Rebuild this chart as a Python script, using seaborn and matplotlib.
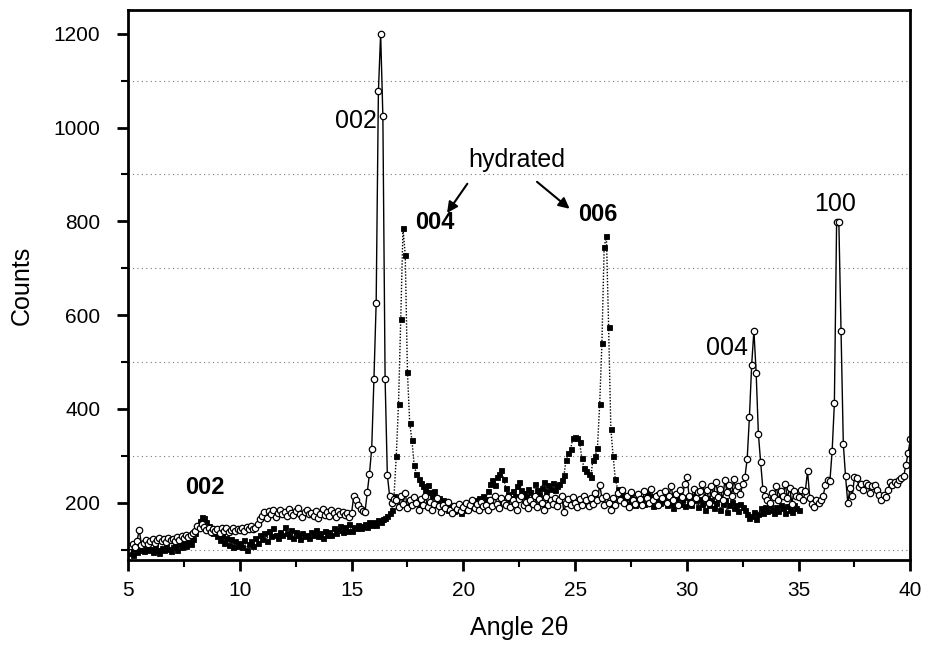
import numpy as np
import matplotlib.pyplot as plt
import seaborn as sns
from matplotlib.ticker import MultipleLocator

# ==========================================
# XRD pattern: dry sample (open circles) vs hydrated (filled squares)
# ==========================================
sns.set_style('ticks')
plt.rcParams['font.family'] = ['Liberation Sans', 'DejaVu Sans']
plt.rcParams.update({'text.color': 'black', 'axes.labelcolor': 'black',
                     'xtick.color': 'black', 'ytick.color': 'black'})

# 2-theta grid of the scans (0.1 deg step)
angle_dry = np.round(np.arange(5.0, 40.05, 0.1), 1)
angle_hyd = np.round(np.arange(5.0, 35.05, 0.1), 1)

# counts, one row per degree
counts_dry = [
    100, 108, 112, 105, 118, 142, 110, 115, 120, 112,   # 5
    118, 122, 115, 120, 125, 118, 122, 116, 124, 120,   # 6
    122, 118, 126, 120, 128, 124, 130, 126, 132, 135,   # 7
    140, 150, 145, 155, 148, 142, 146, 138, 144, 140,   # 8
    143, 136, 145, 140, 146, 138, 142, 145, 140, 144,   # 9
    142, 146, 140, 148, 144, 150, 143, 147, 155, 165,   # 10
    172, 180, 168, 182, 176, 185, 170, 178, 184, 175,   # 11
    180, 172, 186, 178, 174, 182, 188, 176, 170, 180,   # 12
    184, 175, 178, 172, 182, 168, 176, 186, 174, 180,   # 13
    172, 185, 178, 170, 182, 176, 180, 174, 178, 170,   # 14
    178, 215, 205, 195, 187, 182, 180, 222, 262, 315,   # 15
    463, 626, 1077, 1200, 1024, 463, 259, 215, 200, 208,  # 16
    205, 190, 215, 198, 220, 188, 205, 195, 212, 200,   # 17
    185, 208, 196, 215, 190, 202, 185, 198, 210, 192,   # 18
    180, 195, 188, 202, 185, 178, 192, 186, 198, 182,   # 19
    190, 200, 185, 196, 205, 188, 198, 184, 202, 192,   # 20
    196, 185, 205, 192, 215, 198, 188, 210, 200, 195,   # 21
    212, 190, 205, 198, 185, 208, 215, 195, 202, 188,   # 22
    205, 198, 215, 190, 208, 200, 185, 212, 196, 205,   # 23
    198, 210, 192, 205, 215, 180, 200, 208, 195, 212,   # 24
    200, 190, 208, 196, 215, 205, 192, 210, 198, 220,   # 25
    205, 238, 210, 195, 215, 200, 185, 210, 195, 220,   # 26
    205, 228, 200, 215, 190, 222, 205, 198, 218, 208,   # 27
    195, 225, 210, 200, 230, 205, 215, 195, 220, 210,   # 28
    225, 200, 215, 235, 205, 218, 195, 228, 212, 240,   # 29
    255, 215, 200, 230, 210, 222, 225, 240, 210, 228,   # 30
    200, 235, 218, 245, 212, 230, 205, 248, 222, 238,   # 31
    215, 250, 226, 235, 218, 240, 255, 294, 383, 494,   # 32
    567, 477, 347, 287, 230, 215, 205, 200, 220, 212,   # 33
    235, 205, 225, 215, 240, 210, 232, 198, 225, 215,   # 34
    212, 228, 205, 225, 267, 210, 198, 190, 205, 200,   # 35
    205, 215, 238, 249, 246, 310, 412, 799, 799, 566,   # 36
    325, 256, 199, 231, 214, 255, 253, 234, 240, 228,   # 37
    242, 238, 221, 235, 238, 226, 217, 206, 217, 212,   # 38
    228, 245, 238, 245, 240, 249, 252, 256, 280, 306,   # 39
    335,                                                # 40
]

counts_hyd = [
    92, 98, 88, 102, 95, 108, 100, 96, 104, 99,         # 5
    102, 95, 106, 100, 92, 104, 98, 108, 101, 96,       # 6
    105, 110, 100, 112, 106, 115, 108, 118, 112, 122,   # 7
    135, 148, 160, 170, 168, 158, 150, 142, 135, 140,   # 8
    128, 120, 132, 115, 125, 110, 122, 105, 118, 108,   # 9
    115, 105, 120, 100, 112, 118, 108, 125, 115, 130,   # 10
    122, 135, 118, 140, 128, 145, 132, 125, 138, 130,   # 11
    148, 135, 128, 142, 125, 138, 130, 122, 135, 128,   # 12
    132, 125, 138, 130, 142, 128, 135, 125, 140, 132,   # 13
    138, 130, 145, 135, 142, 150, 138, 148, 140, 155,   # 14
    140, 148, 145, 152, 146, 150, 155, 148, 158, 152,   # 15
    158, 152, 162, 158, 165, 168, 172, 178, 185, 215,   # 16
    300, 411, 592, 785, 729, 478, 370, 333, 280, 262,   # 17
    250, 242, 235, 228, 238, 222, 215, 225, 205, 210,   # 18
    198, 205, 192, 185, 195, 188, 182, 190, 185, 178,   # 19
    192, 185, 195, 200, 190, 205, 198, 210, 202, 215,   # 20
    208, 225, 240, 248, 238, 255, 262, 270, 250, 232,   # 21
    218, 210, 225, 215, 235, 245, 228, 220, 212, 230,   # 22
    222, 215, 240, 228, 218, 232, 245, 225, 238, 230,   # 23
    242, 228, 235, 240, 248, 258, 292, 305, 314, 338,   # 24
    340, 338, 330, 295, 274, 268, 262, 255, 292, 300,   # 25
    316, 410, 540, 745, 768, 575, 357, 300, 250, 230,   # 26
    218, 225, 205, 212, 198, 220, 208, 195, 215, 202,   # 27
    210, 198, 222, 205, 215, 192, 208, 218, 200, 212,   # 28
    205, 195, 215, 200, 188, 210, 220, 198, 205, 192,   # 29
    212, 200, 195, 215, 205, 190, 208, 198, 185, 210,   # 30
    195, 205, 188, 200, 212, 185, 198, 205, 180, 195,   # 31
    202, 188, 195, 182, 198, 190, 185, 175, 168, 172,   # 32
    180, 165, 175, 188, 178, 190, 182, 195, 185, 178,   # 33
    190, 182, 195, 188, 178, 192, 185, 180, 195, 188,   # 34
    185,                                                # 35
]

fig = plt.figure(figsize=(9.28, 6.45), dpi=100)
ax = fig.add_axes([0.138, 0.132, 0.843, 0.852])

# hydrated first, so the open circles sit on top
sns.lineplot(x=angle_hyd, y=counts_hyd, ax=ax, color='black', lw=1.0,
             linestyle=(0, (1, 1.2)), marker='s', markersize=3.6,
             markerfacecolor='black', markeredgecolor='black', markeredgewidth=0.6)
sns.lineplot(x=angle_dry, y=counts_dry, ax=ax, color='black', lw=1.0,
             marker='o', markersize=4.6, markerfacecolor='white',
             markeredgecolor='black', markeredgewidth=0.9)

ax.set_xlim(5, 40)
ax.set_ylim(78, 1250)
ax.xaxis.set_major_locator(MultipleLocator(5))
ax.xaxis.set_minor_locator(MultipleLocator(2.5))
ax.yaxis.set_major_locator(MultipleLocator(200))
ax.yaxis.set_minor_locator(MultipleLocator(100))

# dotted grid on the minor (odd hundreds) levels only
ax.grid(False)
ax.grid(which='minor', axis='y', color='#777777', linestyle=(0, (1, 3)), lw=0.8)

for s in ax.spines.values():
    s.set_visible(True)
    s.set_linewidth(2)
    s.set_color('black')
ax.tick_params(which='major', direction='out', length=8, width=2, labelsize=15)
ax.tick_params(which='minor', direction='out', length=5, width=1.5)
ax.tick_params(axis='y', which='major', pad=12)
ax.tick_params(axis='x', which='major', pad=7)

ax.set_xlabel('Angle 2θ', fontsize=18, labelpad=12)
ax.set_ylabel('Counts', fontsize=18, labelpad=14)

# peak labels
ax.text(16.12, 1015, '002', fontsize=18, ha='right', va='center')
ax.text(32.75, 530, '004', fontsize=18, ha='right', va='center')
ax.text(36.65, 838, '100', fontsize=18, ha='center', va='center')
ax.text(8.45, 232, '002', fontsize=17, fontweight='bold', ha='center', va='center')
ax.text(17.85, 798, '004', fontsize=17, fontweight='bold', ha='left', va='center')
ax.text(26.0, 815, '006', fontsize=17, fontweight='bold', ha='center', va='center')
ax.text(22.4, 930, 'hydrated', fontsize=18, ha='center', va='center')

arrow = dict(arrowstyle='-|>', color='black', lw=1.5, mutation_scale=16)
ax.annotate('', xy=(19.2, 813), xytext=(20.25, 885), arrowprops=arrow)
ax.annotate('', xy=(24.85, 823), xytext=(23.2, 888), arrowprops=arrow)

fig.savefig('out.png', dpi=100)
